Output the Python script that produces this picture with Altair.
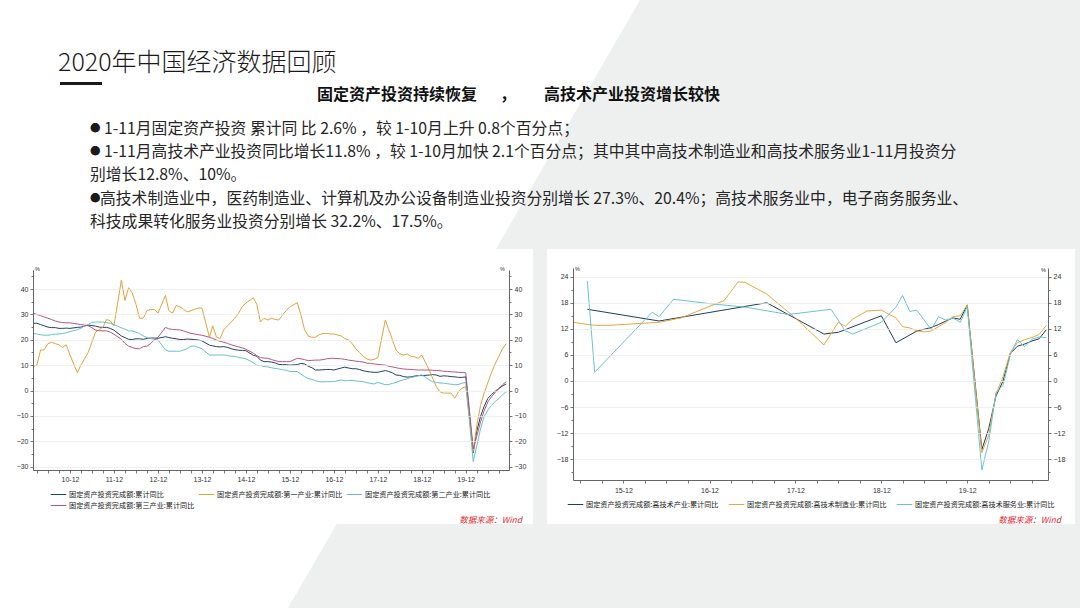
import math
import altair as alt
import pandas as pd

CJK = "Noto Sans CJK SC"
AXF = "Liberation Sans"
TXT = "#262626"

# ---------------- left chart: monthly Feb-2010 .. Nov-2020 ----------------
left_months = [f"{y}-{m:02d}-01" for y in range(2010, 2021) for m in range(2, 13)][:-1]

fai_total = [
    26.5, 26.5, 26.0, 25.5, 25.0, 24.8, 24.8, 24.5, 24.5, 24.6, 24.5,
    24.9, 25.0, 25.4, 25.8, 25.6, 25.4, 25.0, 24.9, 24.9, 24.5, 23.8,
    21.5, 20.9, 20.2, 20.1, 20.4, 20.4, 20.2, 20.5, 20.7, 20.7, 20.6,
    21.2, 20.9, 20.6, 20.4, 20.1, 20.1, 20.3, 20.2, 20.1, 19.9, 19.6,
    17.9, 17.6, 17.3, 17.2, 17.3, 17.0, 16.5, 16.1, 15.9, 15.8, 15.7,
    13.9, 13.5, 12.0, 11.4, 11.4, 11.2, 10.9, 10.3, 10.2, 10.2, 10.0,
    10.2, 10.7, 10.5, 9.6, 9.0, 8.1, 8.1, 8.2, 8.3, 8.3, 8.1,
    8.9, 9.2, 8.9, 8.6, 8.6, 8.3, 7.8, 7.5, 7.3, 7.2, 7.2,
    7.9, 7.5, 7.0, 6.1, 6.0, 5.5, 5.3, 5.4, 5.7, 5.9, 5.9,
    6.1, 6.3, 6.1, 5.6, 5.8, 5.7, 5.5, 5.4, 5.2, 5.2, 5.4,
    -24.5, -16.1, -10.3, -6.3, -3.1, -1.6, -0.3, 0.8, 1.8, 2.6,
]
fai_primary = [
    9.5, 10.0, 16.0, 16.0, 18.5, 19.0, 18.5, 18.0, 17.0, 18.0, 14.0,
    7.0, 10.0, 12.5, 15.0, 19.0, 23.0, 24.0, 25.0, 28.0, 27.5, 25.5,
    43.5, 35.5, 40.5, 38.5, 34.0, 28.5, 28.5, 31.5, 32.0, 32.0, 30.5,
    37.5, 31.5, 30.5, 33.5, 33.0, 32.0, 31.0, 31.5, 32.0, 32.5, 32.5,
    21.0, 25.5, 21.0, 20.5, 24.0, 25.5, 27.0, 28.5, 30.5, 33.0, 34.5,
    36.5, 34.0, 27.0, 28.5, 27.8, 28.5, 28.0, 27.8, 29.8, 31.5, 33.0,
    34.6, 30.0, 24.0, 21.5, 21.0, 21.0, 22.0, 22.5, 22.5, 22.3, 22.3,
    21.5, 20.5, 20.0, 18.5, 16.5, 15.0, 13.5, 12.5, 12.0, 12.3, 13.0,
    27.8, 24.0, 20.0, 16.0, 14.5, 14.0, 14.4, 13.5, 13.3, 12.7, 14.0,
    8.0, 4.8, 1.5, -0.5, -1.0, -1.0, -1.0, -3.0, -0.5, 1.0, 1.5,
    -24.0, -14.0, -6.0, -1.0, 3.0, 7.0, 10.5, 13.5, 16.5, 18.5,
]
fai_secondary = [
    22.5, 22.3, 22.0, 21.8, 21.8, 22.0, 22.2, 22.3, 22.5, 22.8, 23.2,
    24.0, 24.5, 25.5, 26.0, 26.8, 27.0, 27.0, 27.0, 26.8, 26.5, 26.0,
    24.7, 24.2, 23.5, 23.5, 23.0, 22.5, 21.5, 20.8, 20.5, 20.2, 20.0,
    16.0, 15.5, 15.5, 15.5, 15.5, 16.0, 16.5, 17.5, 17.5, 17.0, 16.5,
    14.0, 14.0, 14.0, 14.0, 14.0, 13.8, 13.5, 13.5, 13.0, 12.8, 12.5,
    11.0, 10.0, 9.8, 9.5, 9.3, 9.0, 8.7, 8.5, 8.2, 8.0, 7.5,
    7.5, 6.5, 5.5, 4.8, 4.4, 3.9, 3.5, 3.4, 3.5, 3.5, 3.5,
    4.2, 3.8, 4.0, 4.0, 3.8, 3.6, 3.5, 3.1, 2.8, 2.6, 3.2,
    2.3, 2.4, 2.8, 3.2, 3.8, 4.2, 4.6, 5.2, 5.4, 5.8, 6.2,
    4.2, 3.5, 3.2, 3.0, 2.9, 2.7, 2.5, 2.3, 2.4, 2.9, 3.2,
    -28.0, -21.9, -15.2, -10.3, -7.7, -5.9, -4.3, -3.1, -1.7, -0.5,
]
fai_tertiary = [
    30.5, 30.0, 29.5, 29.0, 28.5, 28.0, 27.4, 27.0, 26.8, 26.7, 26.7,
    26.2, 26.0, 25.8, 25.5, 24.8, 23.8, 23.6, 23.5, 23.5, 23.0, 22.2,
    20.2, 18.6, 17.5, 17.0, 16.5, 16.5, 17.3, 17.5, 18.5, 20.0, 21.0,
    24.9, 24.3, 24.1, 24.0, 23.9, 23.5, 23.0, 22.5, 22.3, 22.0, 21.8,
    21.0, 20.5, 19.9, 19.4, 19.0, 18.6, 18.0, 17.6, 17.2, 16.8, 16.3,
    14.7, 13.8, 13.0, 12.8, 12.7, 12.2, 11.8, 11.4, 11.4, 11.4, 11.4,
    12.7, 12.5, 12.2, 11.8, 11.9, 12.0, 12.0, 12.2, 12.5, 12.7, 12.7,
    12.5, 12.3, 12.0, 11.8, 11.6, 11.4, 11.2, 10.8, 10.7, 10.5, 10.3,
    10.0, 9.6, 9.3, 9.0, 8.7, 8.5, 8.4, 8.3, 8.2, 8.1, 8.1,
    8.1, 8.0, 7.9, 7.8, 7.6, 7.5, 7.4, 7.3, 7.2, 7.1, 7.0,
    -23.0, -18.0, -12.5, -8.0, -4.5, -2.5, -0.8, 0.8, 2.3, 3.5,
]
left_names = ["固定资产投资完成额:累计同比", "固定资产投资完成额:第一产业:累计同比",
              "固定资产投资完成额:第二产业:累计同比", "固定资产投资完成额:第三产业:累计同比"]
left_colors = ["#22406b", "#e2a23a", "#67c1c7", "#b4587c"]
left_yticks = [-30, -20, -10, 0, 10, 20, 30, 40]
left_yminor = [-25, -15, -5, 5, 15, 25, 35, 45]

# ---------------- right chart: high-tech investment ----------------
ht_total_dates = ["2015-07", "2016-05", "2017-08", "2018-04", "2018-06", "2018-12", "2019-02",
                  "2019-05", "2019-07", "2019-08", "2019-09", "2019-10", "2019-11", "2019-12",
                  "2020-02", "2020-03", "2020-04", "2020-05", "2020-06", "2020-07", "2020-08",
                  "2020-09", "2020-10", "2020-11"]
ht_total_vals = [16.5, 13.8, 18.0, 10.8, 11.2, 15.0, 8.8, 11.5, 12.3, 13.0, 13.8, 14.5, 14.2, 17.5,
                 -15.8, -11.0, -3.5, 0.0, 6.3, 8.0, 8.5, 9.2, 9.7, 11.8]
ht_mfg_dates = ["2015-05", "2015-08", "2015-10", "2016-05", "2016-08", "2017-02", "2017-04", "2017-05",
                "2017-08", "2017-12", "2018-04", "2018-06", "2018-07", "2018-08", "2018-10", "2018-12",
                "2019-02", "2019-03", "2019-04", "2019-05", "2019-06", "2019-07", "2019-08", "2019-09",
                "2019-10", "2019-11", "2019-12", "2020-02", "2020-03", "2020-04", "2020-05", "2020-06",
                "2020-07", "2020-08", "2020-09", "2020-10", "2020-11"]
ht_mfg_vals = [13.5, 12.8, 12.8, 13.5, 14.5, 18.5, 22.8, 22.7, 20.0, 14.5, 8.3, 13.5, 12.6, 14.2,
               16.1, 16.3, 14.5, 12.5, 12.2, 11.5, 11.3, 11.5, 12.5, 13.5, 14.8, 15.0, 17.5,
               -16.5, -12.5, -3.0, 1.0, 6.6, 8.8, 9.5, 10.0, 10.7, 12.8]
ht_svc_dates = ["2015-07", "2015-08", "2016-04", "2016-05", "2016-07", "2016-12", "2017-05", "2017-11",
                "2018-05", "2018-07", "2018-08", "2018-12", "2019-02", "2019-03", "2019-04", "2019-05",
                "2019-07", "2019-08", "2019-09", "2019-10", "2019-11", "2019-12", "2020-02", "2020-03",
                "2020-04", "2020-05", "2020-06", "2020-07", "2020-08", "2020-09", "2020-10", "2020-11"]
ht_svc_vals = [23.0, 2.0, 15.8, 14.8, 18.8, 17.8, 17.0, 15.3, 16.5, 11.5, 10.8, 13.5, 17.0, 19.7,
               16.0, 16.3, 11.8, 14.8, 14.0, 14.5, 13.5, 17.0, -20.5, -14.0, -2.7, -1.0, 6.0, 9.5,
               7.9, 9.6, 10.1, 10.0]
right_names = ["固定资产投资完成额:高技术产业:累计同比", "固定资产投资完成额:高技术制造业:累计同比",
               "固定资产投资完成额:高技术服务业:累计同比"]
right_colors = ["#1f3d5e", "#e6a83c", "#6cc3cd"]
right_yticks = [-18, -12, -6, 0, 6, 12, 18, 24]
right_yminor = [-21, -15, -9, -3, 3, 9, 15, 21]

# ---------------- text ----------------
title_text = "2020年中国经济数据回顾"
sub_left = "固定资产投资持续恢复"
sub_comma = "，"
sub_right = "高技术产业投资增长较快"
bullet_lines = [
    (True, "1-11月固定资产投资 累计同 比 2.6% ，较 1-10月上升 0.8个百分点；"),
    (True, "1-11月高技术产业投资同比增长11.8% ，较 1-10月加快 2.1个百分点；其中其中高技术制造业和高技术服务业1-11月投资分"),
    (False, "别增长12.8%、10%。"),
    (True, "高技术制造业中，医药制造业、计算机及办公设备制造业投资分别增长 27.3%、20.4%；高技术服务业中，电子商务服务业、"),
    (False, "科技成果转化服务业投资分别增长 32.2%、17.5%。"),
]
source_text = "数据来源：Wind"

# ---------------- frames ----------------
left_df = pd.DataFrame({
    "date": left_months * 4,
    "value": fai_total + fai_primary + fai_secondary + fai_tertiary,
    "series": sum([[n] * len(left_months) for n in left_names], []),
})
right_df = pd.DataFrame({
    "date": [d + "-01" for d in ht_total_dates + ht_mfg_dates + ht_svc_dates],
    "value": ht_total_vals + ht_mfg_vals + ht_svc_vals,
    "series": [right_names[0]] * len(ht_total_dates) + [right_names[1]] * len(ht_mfg_dates)
              + [right_names[2]] * len(ht_svc_dates),
})
one = pd.DataFrame({"k": [0]})


def dt(y, m, d=1):
    return alt.DateTime(year=y, month=m, date=d, utc=True)


def quarter_ticks(y0, m0, y1, m1):
    out = []
    y, m = y0, m0
    while (y, m) <= (y1, m1):
        out.append(dt(y, m))
        m += 3
        if m > 12:
            m -= 12
            y += 1
    return out


LABEL_EXPR = "utcmonth(datum.value) == 11 ? utcFormat(datum.value, '%y-%m') : ''"
AX = dict(labelFont=AXF, labelFontSize=7, labelColor="#333333", domainColor="#555555",
          tickColor="#555555", tickSize=3, tickWidth=0.8, domainWidth=0.9, title=None, zindex=1)


def text(s, x, y, size, align="left", weight="normal", color=TXT, font=CJK, style="normal"):
    return alt.Chart(one).mark_text(
        text=s, fontSize=size, font=font, align=align, baseline="middle",
        fontWeight=weight, color=color, fontStyle=style,
    ).encode(x=alt.value(x), y=alt.value(y))


def rect(x, x2, y, y2, color):
    return alt.Chart(one).mark_rect(color=color).encode(
        x=alt.value(x), x2=alt.value(x2), y=alt.value(y), y2=alt.value(y2))


def legend(x, y, pad):
    return alt.Legend(orient="none", legendX=x, legendY=y, direction="horizontal",
                      columns=3, title=None, symbolType="stroke", symbolSize=240,
                      symbolStrokeWidth=1, clipHeight=9, rowPadding=2,
                      columnPadding=pad, labelOffset=2, labelFont=CJK,
                      labelFontSize=7.15, labelColor="#222222", labelLimit=400, padding=0)


# ---------------- background: grey diagonal band ----------------
A = (640.0, 0.0)
B = (288.0, 608.0)
dx, dy = B[0] - A[0], B[1] - A[1]
L = math.hypot(dx, dy)
nx, ny = dy / L, -dx / L
W = 1400
p1 = (A[0] - 0.6 * dx + nx * W / 2, A[1] - 0.6 * dy + ny * W / 2)
p2 = (A[0] + 1.6 * dx + nx * W / 2, A[1] + 1.6 * dy + ny * W / 2)
bg = alt.Chart(one).mark_rule(color="#eef0f0", strokeWidth=W, strokeCap="butt").encode(
    x=alt.value(p1[0]), y=alt.value(p1[1]), x2=alt.value(p2[0]), y2=alt.value(p2[1]))

panel_l = rect(0, 533, 249, 524, "white")
panel_r = rect(547, 1075, 249, 524, "white")

# ---------------- left chart ----------------
lx = alt.Scale(type="utc", domain=[dt(2010, 1, 28), dt(2020, 11, 24)], range=[33, 509], nice=False)
ly = alt.Scale(domain=[-31.3, 47.5], range=[470, 270], nice=False, zero=False)
l_xticks = quarter_ticks(2010, 3, 2020, 9)

left_lines = alt.Chart(left_df).mark_line(strokeWidth=1).encode(
    x=alt.X("date:T", scale=lx, axis=alt.Axis(orient="bottom", offset=-138, values=l_xticks,
                                              labelExpr=LABEL_EXPR, grid=False, labelPadding=2, **AX)),
    y=alt.Y("value:Q", scale=ly, axis=alt.Axis(orient="left", offset=-33, values=left_yticks,
                                               grid=True, gridColor="#e8e8e8", gridWidth=0.7,
                                               labelPadding=2, **AX)),
    color=alt.Color("series:N", scale=alt.Scale(domain=left_names, range=left_colors),
                    legend=legend(50, 490, 3)),
    order=alt.Order("date:T"),
)


def extra_axis(df, xs, ys, orient, offset, values, minor):
    ax = dict(AX)
    kw = dict(grid=False, labelPadding=2)
    if minor:
        ax["tickSize"] = 2
        kw.update(labels=False, domain=False)
    return alt.Chart(df).mark_line(opacity=0).encode(
        x=alt.X("date:T", scale=xs, axis=None),
        y=alt.Y("value:Q", scale=ys, axis=alt.Axis(orient=orient, offset=offset, values=values,
                                                   **kw, **ax)),
    )


left_extra = [
    extra_axis(left_df, lx, ly, "right", -571, left_yticks, False),
    extra_axis(left_df, lx, ly, "left", -33, left_yminor, True),
    extra_axis(left_df, lx, ly, "right", -571, left_yminor, True),
]

# ---------------- right chart ----------------
rx = alt.Scale(type="utc", domain=[dt(2015, 5, 1), dt(2020, 11, 8)], range=[573, 1048], nice=False)
ry = alt.Scale(domain=[-22.8, 26.0], range=[480, 268], nice=False, zero=False)
r_xticks = quarter_ticks(2015, 6, 2020, 9)

right_lines = alt.Chart(right_df).mark_line(strokeWidth=1).encode(
    x=alt.X("date:T", scale=rx, axis=alt.Axis(orient="bottom", offset=-128, values=r_xticks,
                                              labelExpr=LABEL_EXPR, grid=False, labelPadding=3, **AX)),
    y=alt.Y("value:Q", scale=ry, axis=alt.Axis(orient="left", offset=-573, values=right_yticks,
                                               grid=True, gridColor="#e8e8e8", gridWidth=0.7,
                                               labelPadding=2, **AX)),
    color=alt.Color("series:N", scale=alt.Scale(domain=right_names, range=right_colors),
                    legend=legend(567, 500, 9)),
    order=alt.Order("date:T"),
)
right_extra = [
    extra_axis(right_df, rx, ry, "right", -32, right_yticks, False),
    extra_axis(right_df, rx, ry, "left", -573, right_yminor, True),
    extra_axis(right_df, rx, ry, "right", -32, right_yminor, True),
]

# ---------------- texts ----------------
texts = [
    text(title_text, 58, 62.5, 25, weight=300, color="#1a1a1a"),
    rect(60, 102, 82, 85, "#1a1a1a"),
    text(sub_left, 317, 95, 16, weight="bold", color="#111111"),
    text(sub_comma, 500, 95, 16, weight="bold", color="#111111"),
    text(sub_right, 544, 95, 16, weight="bold", color="#111111"),
]
for (has_bullet, line), yy in zip(bullet_lines, [128.5, 151.5, 175, 198.5, 222]):
    if has_bullet:
        texts.append(text("●", 90, yy, 10.5, color="#1a1a1a"))
        start = 104 if line[0].isdigit() else 100
    else:
        start = 90
    texts.append(text(line, start, yy, 15.8))
texts += [
    text("%", 35, 269, 5.5, font=AXF, color="#333333"),
    text("%", 505, 269, 5.5, align="right", font=AXF, color="#333333"),
    text("%", 575, 269, 5.5, font=AXF, color="#333333"),
    text("%", 1046, 270, 5.5, align="right", font=AXF, color="#333333"),
    text(source_text, 522, 520, 8.5, align="right", color="#e0262c", style="italic"),
    text(source_text, 1061, 520, 8.5, align="right", color="#e0262c", style="italic"),
]

chart = alt.layer(
    bg, panel_l, panel_r, left_lines, *left_extra, right_lines, *right_extra, *texts
).resolve_scale(
    x="independent", y="independent", color="independent"
).properties(
    width=1080, height=608, padding=0, autosize=alt.AutoSizeParams(type="none"),
).configure(background="white").configure_view(stroke=None)

chart.save("out.html", embed_options={"renderer": "svg", "actions": False})
